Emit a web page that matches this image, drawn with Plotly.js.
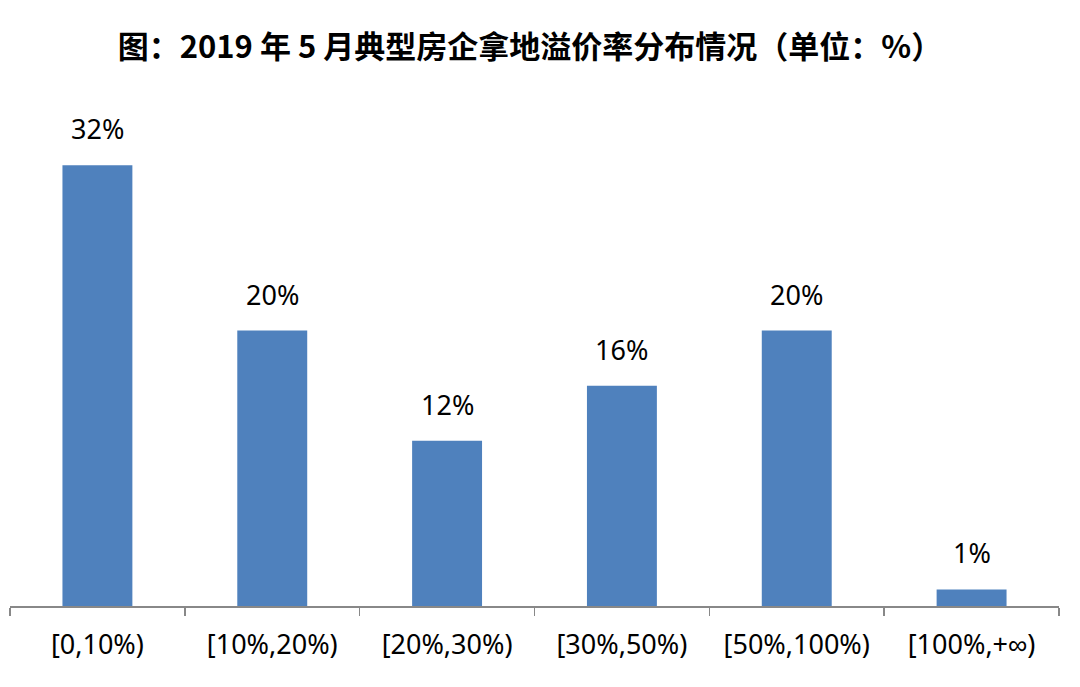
<!DOCTYPE html>
<html>
<head>
<meta charset="utf-8">
<script src="https://cdn.plot.ly/plotly-3.0.1.min.js"></script>
<style>
  html, body { margin: 0; padding: 0; background: #fff; }
  #chart { width: 1080px; height: 687px; }
</style>
</head>
<body>
<div id="chart"></div>
<script>
// Data
const categories = ["[0,10%)", "[10%,20%)", "[20%,30%)", "[30%,50%)", "[50%,100%)", "[100%,+∞)"];
const shares = [32, 20, 12, 16, 20, 1.2];
const shareLabels = ["32%", "20%", "12%", "16%", "20%", "1%"];

const FONT = "Noto Sans, Liberation Sans, sans-serif";

const trace = {
  type: "bar",
  x: categories,
  y: shares,
  marker: { color: "#4F81BD" },
  hoverinfo: "skip"
};

// value labels sit well above the bars, so use annotations
const annotations = categories.map((c, i) => ({
  x: c,
  y: shares[i],
  text: shareLabels[i],
  showarrow: false,
  yanchor: "bottom",
  yshift: 16,
  font: { family: FONT, size: 27, color: "#000" }
}));

const layout = {
  width: 1080,
  height: 687,
  margin: { l: 10, r: 21, t: 124, b: 81 },
  paper_bgcolor: "#fff",
  plot_bgcolor: "#fff",
  bargap: 0.6,
  showlegend: false,
  title: {
    text: "<b>图：2019 年 5 月典型房企拿地溢价率分布情况（单位：%）</b>",
    x: 0.4907,
    xanchor: "center",
    y: 0.932,
    yanchor: "middle",
    font: { family: "Noto Sans CJK SC, sans-serif", size: 31, color: "#000" }
  },
  xaxis: {
    type: "category",
    showline: true,
    linecolor: "#888",
    linewidth: 1.5,
    ticks: "outside",
    tickson: "boundaries",
    ticklen: 8,
    tickcolor: "#888",
    tickwidth: 1.5,
    ticklabelstandoff: 14,
    showgrid: false,
    tickfont: { family: FONT, size: 27, color: "#000" }
  },
  yaxis: {
    range: [0, 35],
    visible: false,
    showgrid: false,
    zeroline: false
  },
  annotations: annotations
};

Plotly.newPlot("chart", [trace], layout, { displayModeBar: false, staticPlot: true });
</script>
</body>
</html>
